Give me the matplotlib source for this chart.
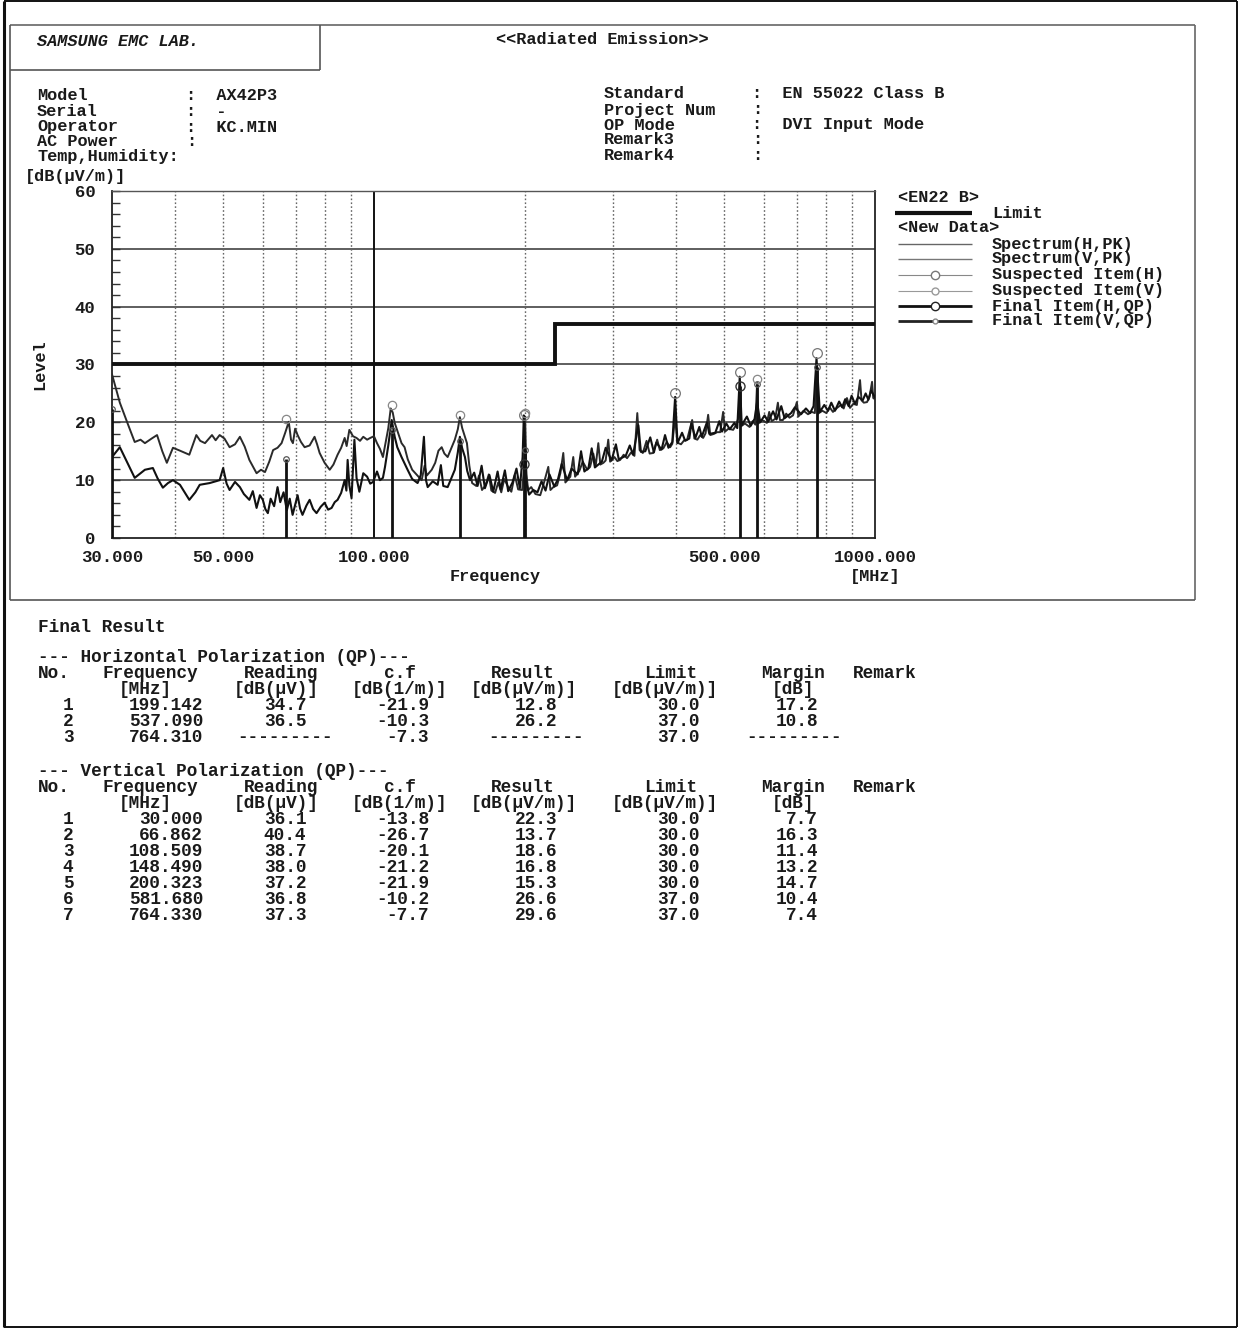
import matplotlib
matplotlib.use("Agg")
import matplotlib.pyplot as plt
from matplotlib.ticker import FixedLocator, MultipleLocator, NullLocator

plt.rcParams['font.family'] = ['Liberation Mono', 'DejaVu Sans Mono']
plt.rcParams['font.weight'] = 'bold'

# ---------------- data ----------------
# Peak spectrum, horizontal antenna polarization (MHz, dB(uV/m))
spec_h_freq = [30.0, 31.1, 32.2, 33.3, 34.9, 36.2, 37.0, 37.9, 38.8, 39.7, 41.0, 42.8, 44.0, 44.9,
               47.0, 49.2, 50.0, 50.8, 51.5, 52.8, 54.0, 55.0, 56.4, 57.3, 58.3, 59.2, 60.0, 60.7,
               61.4, 62.2, 63.2, 64.2, 65.0, 66.0, 67.0, 67.9, 68.8, 70.4, 71.2, 72.0, 73.3, 74.4,
               75.6, 76.8, 78.3, 79.7, 81.0, 82.3, 83.5, 84.6, 86.0, 87.4, 88.1, 88.6, 89.3, 90.2,
               90.9, 91.4, 92.3, 93.5, 95.2, 96.9, 98.3, 99.6, 101.4, 102.8, 104.2, 105.2, 106.8,
               108.5, 110.0, 111.3, 113.5, 116.7, 119.2, 122.2, 124.0, 125.8, 127.0, 128.0, 131.0,
               134.0, 136.0, 137.5, 140.3, 142.5, 145.0, 147.0, 148.4, 150.0, 151.9, 153.5, 155.5,
               158.5, 161.0, 164.0, 166.5, 170.0, 173.0, 176.5, 179.0, 182.5, 185.3, 189.0, 192.5,
               195.5, 198.0, 199.1, 200.0, 201.5, 204.0, 208.0, 212.0, 216.0, 220.0, 224.0, 229.0,
               233.0, 237.0, 243.0, 248.0, 255.0, 259.0, 263.0, 268.0, 272.0, 276.0, 285.0, 290.0,
               298.0, 304.0, 308.0, 318.0, 324.0, 329.0, 337.0, 341.0, 348.0, 356.0, 362.0, 366.0,
               375.0, 381.0, 387.0, 394.0, 399.1, 403.5, 412.0, 418.0, 426.0, 430.0, 438.0, 446.0,
               451.0, 462.0, 467.0, 480.0, 489.0, 495.0, 505.0, 513.0, 524.0, 531.0, 537.1, 542.0,
               555.0, 565.0, 575.0, 581.7, 590.0, 602.0, 612.0, 626.0, 636.0, 650.0, 660.0, 680.0,
               692.0, 712.0, 728.0, 742.0, 754.0, 764.3, 776.0, 792.0, 806.0, 818.0, 832.0, 848.0,
               860.0, 872.0, 886.0, 898.0, 912.0, 926.0, 945.0, 958.0, 970.0, 982.0, 1000.0]
spec_h_level = [14.0, 15.7, 13.0, 10.4, 11.8, 12.1, 10.3, 8.7, 9.5, 10.0, 9.2, 6.6, 7.9, 9.2,
                9.5, 10.0, 12.1, 9.4, 8.3, 9.7, 8.8, 7.6, 6.6, 8.1, 5.2, 7.4, 6.6, 5.0,
                4.3, 6.8, 5.5, 8.8, 6.2, 7.9, 4.8, 6.8, 4.0, 7.4, 5.1, 4.0, 5.6, 6.6,
                5.0, 4.3, 5.4, 6.1, 4.9, 5.2, 6.2, 6.6, 7.8, 10.0, 8.2, 13.5, 9.1, 6.9,
                12.8, 17.0, 10.4, 8.0, 11.2, 10.6, 9.4, 9.7, 11.5, 10.0, 10.4, 12.3, 16.0,
                20.4, 17.5, 15.7, 14.0, 11.8, 10.2, 9.5, 10.9, 17.5, 10.0, 8.8, 9.8,
                9.2, 12.6, 9.0, 8.8, 10.2, 11.8, 14.8, 17.5, 15.5, 14.0, 11.6, 10.0,
                11.3, 9.0, 12.5, 8.6, 10.9, 8.0, 11.5, 8.4, 11.7, 8.1, 9.6, 12.0,
                8.6, 14.0, 21.2, 17.0, 9.5, 7.5, 8.3, 7.9, 9.8, 8.2, 11.0, 8.9,
                10.2, 12.8, 10.0, 12.0, 11.0, 15.0, 11.5, 12.1, 15.5, 12.2, 13.2, 15.6,
                13.4, 16.2, 13.6, 14.2, 16.0, 14.4, 19.5, 14.9, 15.0, 17.4, 14.8, 16.5,
                15.3, 17.8, 15.6, 16.6, 24.4, 16.4, 18.2, 16.8, 17.2, 19.8, 17.3, 19.2,
                17.5, 20.0, 18.0, 18.2, 20.2, 18.4, 19.8, 18.8, 19.9, 19.0, 27.9, 19.5,
                21.0, 19.4, 20.6, 23.5, 20.0, 21.2, 20.1, 21.9, 20.5, 22.8, 20.7, 21.6,
                22.6, 21.4, 22.4, 21.6, 22.8, 31.1, 21.8, 23.0, 22.0, 23.4, 22.0, 23.6,
                22.6, 24.0, 22.8, 24.6, 23.2, 24.4, 23.8, 25.0, 23.9, 25.5, 24.3]

# Peak spectrum, vertical antenna polarization (MHz, dB(uV/m))
spec_v_freq = [30.0, 31.1, 32.3, 33.3, 34.2, 34.9, 36.0, 36.9, 37.8, 38.6, 39.7, 41.0, 42.8, 44.2,
               45.0, 46.0, 47.5, 48.3, 49.2, 50.3, 51.5, 52.8, 54.0, 55.2, 56.4, 58.3, 59.5, 60.6,
               61.8, 62.9, 64.2, 65.4, 66.5, 67.6, 68.3, 68.9, 69.6, 70.4, 71.5, 72.7, 74.4, 76.1,
               77.0, 77.9, 79.7, 81.6, 83.0, 84.6, 86.0, 87.4, 88.2, 89.3, 90.8, 92.3, 93.8, 95.2,
               96.9, 98.3, 100.0, 101.4, 102.8, 104.2, 105.5, 106.8, 108.0, 109.0, 110.0, 111.5,
               113.5, 115.1, 116.8, 119.2, 121.5, 124.5, 126.2, 127.5, 130.4, 132.5, 134.5, 136.5,
               138.2, 140.3, 142.5, 145.0, 147.0, 148.4, 150.0, 151.9, 153.3, 155.0, 157.0, 160.0,
               162.0, 164.3, 167.0, 169.5, 171.5, 174.5, 177.0, 179.5, 182.0, 185.3, 188.0, 191.0,
               194.0, 197.6, 199.0, 200.3, 201.5, 203.1, 206.0, 210.0, 214.7, 218.0, 222.8, 225.0,
               228.0, 232.0, 235.5, 238.7, 241.0, 246.5, 249.9, 252.0, 257.0, 261.0, 266.5, 270.0,
               274.0, 277.0, 280.4, 283.0, 287.0, 290.0, 293.5, 296.0, 302.0, 306.0, 310.0, 315.0,
               320.0, 326.0, 331.0, 335.4, 339.0, 344.0, 350.0, 355.0, 360.8, 367.5, 372.0, 378.0,
               384.0, 390.1, 394.0, 399.1, 403.0, 410.0, 416.0, 421.7, 431.6, 436.0, 442.0, 448.0,
               453.9, 459.0, 464.5, 469.0, 477.0, 484.0, 491.0, 497.6, 502.0, 510.0, 521.0, 528.0,
               534.0, 537.1, 540.0, 550.0, 562.0, 570.0, 577.0, 581.7, 585.0, 595.0, 608.4, 615.0,
               622.0, 632.0, 640.0, 646.0, 654.9, 665.0, 675.0, 686.0, 698.3, 703.0, 708.0, 720.0,
               735.0, 748.0, 758.6, 764.3, 770.0, 785.0, 800.0, 812.0, 824.3, 840.0, 855.0, 866.0,
               879.0, 891.5, 905.0, 920.0, 933.5, 940.0, 950.0, 964.0, 975.0, 986.6, 992.0, 1000.0]
spec_v_level = [28.3, 23.4, 19.6, 16.6, 17.0, 16.4, 17.2, 17.8, 15.0, 13.0, 15.6, 15.1, 14.4, 17.8,
                16.8, 16.4, 17.8, 16.9, 17.8, 17.2, 15.7, 16.2, 17.5, 15.8, 13.5, 11.2, 11.8, 11.4,
                13.2, 15.2, 15.6, 16.4, 18.2, 20.1, 17.0, 16.4, 18.9, 17.8, 16.6, 15.7, 16.0, 17.5,
                16.2, 14.7, 13.0, 11.8, 12.7, 14.4, 15.6, 17.3, 15.9, 18.7, 17.6, 17.3, 16.8, 17.5,
                17.0, 17.3, 17.6, 16.4, 15.4, 14.0, 16.5, 19.0, 22.4, 21.7, 19.9, 18.4,
                16.4, 15.7, 13.6, 11.8, 11.0, 10.0, 12.5, 10.8, 11.8, 13.0, 15.1, 15.7,
                14.6, 14.0, 15.4, 17.0, 18.8, 20.9, 19.0, 17.5, 16.4, 12.5, 9.5, 9.0,
                10.8, 8.3, 9.1, 11.0, 8.2, 7.8, 9.6, 7.9, 10.2, 8.8, 8.0, 10.9,
                8.4, 8.3, 11.5, 21.0, 11.0, 8.3, 8.8, 7.6, 7.4, 9.3, 12.3, 8.3,
                8.8, 9.1, 11.2, 14.7, 9.6, 10.6, 14.0, 10.6, 11.6, 13.2, 11.8, 12.3,
                14.6, 12.4, 16.4, 12.7, 13.0, 13.4, 17.0, 13.2, 14.0, 13.3, 13.5, 14.4,
                13.8, 14.8, 14.2, 21.6, 15.2, 14.7, 16.8, 14.6, 14.7, 17.0, 15.2, 15.5,
                16.6, 15.7, 16.3, 21.0, 16.5, 16.2, 16.9, 17.0, 20.4, 17.2, 17.0, 17.8,
                17.3, 18.1, 21.3, 17.8, 18.0, 18.3, 18.3, 21.8, 18.4, 18.9, 18.7, 19.5,
                20.8, 24.0, 19.3, 19.8, 19.2, 20.2, 19.6, 26.8, 19.8, 20.4, 19.9, 21.8,
                20.2, 20.6, 23.4, 20.4, 20.4, 21.5, 20.8, 21.2, 23.5, 21.0, 21.3, 22.0,
                21.4, 21.8, 21.6, 29.0, 21.5, 22.0, 21.6, 22.6, 21.8, 22.5, 23.0, 22.4,
                24.2, 22.5, 23.2, 23.0, 27.3, 23.8, 23.4, 23.5, 24.4, 27.0, 24.2, 24.0]

# EN 55022 class B limit (step at 230 MHz)
limit_freq = [30.0, 230.0, 1000.0]
limit_level = [30.0, 37.0, 37.0]

# Suspected peaks
susp_h_freq = [199.142, 399.1, 537.09, 764.31]
susp_h_level = [21.2, 25.0, 28.7, 32.0]
susp_v_freq = [66.862, 108.509, 148.49, 200.323, 581.68]
susp_v_level = [20.5, 23.0, 21.3, 21.6, 27.5]

# Final quasi-peak results, horizontal
h_no = [1, 2, 3]
h_freq = [199.142, 537.090, 764.310]
h_reading = [34.7, 36.5, None]
h_cf = [-21.9, -10.3, -7.3]
h_result = [12.8, 26.2, None]
h_limit = [30.0, 37.0, 37.0]
h_margin = [17.2, 10.8, None]

# Final quasi-peak results, vertical
v_no = [1, 2, 3, 4, 5, 6, 7]
v_freq = [30.000, 66.862, 108.509, 148.490, 200.323, 581.680, 764.330]
v_reading = [36.1, 40.4, 38.7, 38.0, 37.2, 36.8, 37.3]
v_cf = [-13.8, -26.7, -20.1, -21.2, -21.9, -10.2, -7.7]
v_result = [22.3, 13.7, 18.6, 16.8, 15.3, 26.6, 29.6]
v_limit = [30.0, 30.0, 30.0, 30.0, 30.0, 37.0, 37.0]
v_margin = [7.7, 16.3, 11.4, 13.2, 14.7, 10.4, 7.4]

x_ticks = [30, 50, 100, 500, 1000]
x_tick_labels = ["30.000", "50.000", "100.000", "500.000", "1000.000"]
grid_freqs_dotted = [40, 50, 60, 70, 80, 90, 200, 300, 400, 500, 600, 700, 800, 900]

header_left = [("Model", "AX42P3"), ("Serial", "-"), ("Operator", "KC.MIN"),
               ("AC Power", ""), ("Temp,Humidity", None)]
header_right = [("Standard", "EN 55022 Class B"), ("Project Num", ""),
                ("OP Mode", "DVI Input Mode"), ("Remark3", ""), ("Remark4", "")]

# ---------------- figure ----------------
W, H = 1241, 1328
fig = plt.figure(figsize=(W / 100, H / 100), dpi=100)
fig.patch.set_facecolor("white")

page = fig.add_axes([0, 0, 1, 1])
page.set_xlim(0, W)
page.set_ylim(H, 0)
page.axis("off")

INK = "#1a1a1a"
HS = 12.2   # header / legend text size
TS = 12.8   # table text size


def put(x, y, s, size=HS, ha="left", **kw):
    page.text(x, y, s, fontsize=size, ha=ha, va="center", color=INK,
              fontweight="bold", **kw)


def seg(x0, y0, x1, y1, lw=1.2, color="#333333"):
    page.plot([x0, x1], [y0, y1], color=color, lw=lw, solid_capstyle="butt")


# page border
seg(4, 1, 4, H - 1, lw=2.2, color="#111111")
seg(4, 1, W - 4, 1, lw=1.4, color="#111111")
seg(W - 4, 1, W - 4, H - 1, lw=1.4, color="#111111")
seg(4, H - 1, W - 4, H - 1, lw=1.4, color="#111111")

# report frame and lab box
seg(10, 25, 1195, 25, lw=1.2, color="#666666")
seg(10, 25, 10, 600, lw=1.2, color="#555555")
seg(1195, 25, 1195, 600, lw=1.2, color="#666666")
seg(10, 600, 1195, 600, lw=1.2, color="#555555")
seg(10, 70, 320, 70, lw=1.2, color="#555555")
seg(320, 25, 320, 70, lw=1.2, color="#555555")

put(37, 42, "SAMSUNG EMC LAB.", style="italic")
put(602, 40, "<<Radiated Emission>>", ha="center")

left_rows_y = [96, 111, 127, 142, 157]
for (lab, val), y in zip(header_left, left_rows_y):
    if val is None:
        put(37, y, lab + ":")
    else:
        put(37, y, lab)
        put(186, y, ":" + ("  " + val if val else ""))

right_rows_y = [94, 110, 125, 140, 156]
for (lab, val), y in zip(header_right, right_rows_y):
    put(604, y, lab)
    put(752, y, ":" + ("  " + val if val else ""))

put(25, 176, "[dB(μV/m)]")

# ---------------- chart ----------------
ax = fig.add_axes([112 / W, 1 - 538 / H, 763 / W, 347 / H])
ax.set_xscale("log")
ax.set_xlim(30, 1000)
ax.set_ylim(0, 60)

for y in range(10, 60, 10):
    ax.axhline(y, color="#333333", lw=1.1, zorder=1)
for f in grid_freqs_dotted:
    ax.axvline(f, color="#666666", lw=1.0, ls=(0, (1.2, 1.6)), zorder=1)
ax.axvline(100, color="#111111", lw=1.4, zorder=1)

ax.plot(limit_freq, limit_level, drawstyle="steps-post", color="#111111",
        lw=2.8, zorder=3, solid_joinstyle="miter")

ax.plot(spec_v_freq, spec_v_level, color="#2a2a2a", lw=1.4, zorder=4)
ax.plot(spec_h_freq, spec_h_level, color="#111111", lw=1.5, zorder=4)

# final items as sticks from the axis floor
hf = [f for f, r in zip(h_freq, h_result) if r is not None]
hr = [r for r in h_result if r is not None]
ax.vlines(v_freq, 0, v_result, color="#111111", lw=2.0, zorder=5)
ax.vlines(hf, 0, hr, color="#111111", lw=2.0, zorder=5)
ax.plot(hf, hr, ls="none", marker="o", ms=6.5, mfc="none", mec="#333333",
        mew=1.0, zorder=6)
ax.plot(v_freq, v_result, ls="none", marker="o", ms=4, mfc="none",
        mec="#555555", mew=0.9, zorder=6)

# suspected peaks
ax.plot(susp_h_freq, susp_h_level, ls="none", marker="o", ms=7, mfc="none",
        mec="#777777", mew=0.9, zorder=6)
ax.plot(susp_v_freq, susp_v_level, ls="none", marker="o", ms=6, mfc="none",
        mec="#888888", mew=0.9, zorder=6)

ax.xaxis.set_major_locator(FixedLocator(x_ticks))
ax.xaxis.set_minor_locator(NullLocator())
ax.set_xticklabels(x_tick_labels)
ax.tick_params(axis="x", which="major", length=0, pad=9, labelsize=12.5,
               labelcolor=INK)
ax.yaxis.set_major_locator(MultipleLocator(10))
ax.yaxis.set_minor_locator(MultipleLocator(2))
ax.tick_params(axis="y", which="both", direction="in", length=6, width=1.0,
               color="#333333", labelsize=12.5, pad=12, labelcolor=INK)
for lbl in ax.get_xticklabels() + ax.get_yticklabels():
    lbl.set_fontweight("bold")

for side, sp in ax.spines.items():
    sp.set_color("#222222")
    sp.set_linewidth(1.3)
ax.spines["top"].set_linewidth(1.0)
ax.spines["top"].set_color("#555555")

put(40, 365, "Level", rotation=90, ha="center")
put(495, 576, "Frequency", ha="center")
put(875, 576, "[MHz]", ha="center")

# ---------------- legend ----------------
put(898, 197, "<EN22 B>")
seg(895, 213, 972, 213, lw=3.0, color="#111111")
put(992, 213, "Limit")
put(898, 228, "<New Data>")
legend_rows = [
    (244, "Spectrum(H,PK)", dict(lw=1.0, color="#666666"), None),
    (259, "Spectrum(V,PK)", dict(lw=1.0, color="#777777"), None),
    (275, "Suspected Item(H)", dict(lw=0.8, color="#888888"), ("o", 6, "#777777")),
    (291, "Suspected Item(V)", dict(lw=0.8, color="#999999"), ("o", 5, "#999999")),
    (306, "Final Item(H,QP)", dict(lw=2.0, color="#111111"), ("o", 6, "#222222")),
    (321, "Final Item(V,QP)", dict(lw=2.0, color="#222222"), ("o", 3.5, "#888888")),
]
for y, txt, style, mk in legend_rows:
    page.plot([898, 972], [y, y], solid_capstyle="butt", **style)
    if mk is not None:
        page.plot([935], [y], marker=mk[0], ms=mk[1], mfc="white", mec=mk[2],
                  mew=1.0, ls="none")
    put(992, y, txt)

# ---------------- result tables ----------------
put(38, 627, "Final Result", size=TS)


def fmt(v, spec):
    return "---------" if v is None else format(v, spec)


def table(y0, title, nos, freqs, reads, cfs, results, limits, margins):
    put(38, y0, title, size=TS)
    yh = y0 + 16
    put(38, yh, "No.", size=TS)
    put(150, yh, "Frequency", size=TS, ha="center")
    put(281, yh, "Reading", size=TS, ha="center")
    put(400, yh, "c.f", size=TS, ha="center")
    put(523, yh, "Result", size=TS, ha="center")
    put(671, yh, "Limit", size=TS, ha="center")
    put(793, yh, "Margin", size=TS, ha="center")
    put(853, yh, "Remark", size=TS)
    yu = yh + 16
    put(145, yu, "[MHz]", size=TS, ha="center")
    put(276, yu, "[dB(μV)]", size=TS, ha="center")
    put(400, yu, "[dB(1/m)]", size=TS, ha="center")
    put(524, yu, "[dB(μV/m)]", size=TS, ha="center")
    put(665, yu, "[dB(μV/m)]", size=TS, ha="center")
    put(793, yu, "[dB]", size=TS, ha="center")
    y = yu + 16
    for n, f, r, c, res, lim, m in zip(nos, freqs, reads, cfs, results, limits, margins):
        put(68, y, str(n), size=TS, ha="center")
        put(203, y, format(f, ".3f"), size=TS, ha="right")
        put(285, y, fmt(r, ".1f"), size=TS, ha="center")
        put(429, y, format(c, ".1f"), size=TS, ha="right")
        put(536, y, fmt(res, ".1f"), size=TS, ha="center")
        put(678, y, format(lim, ".1f"), size=TS, ha="center")
        if m is None:
            put(794, y, fmt(m, ".1f"), size=TS, ha="center")
        else:
            put(818, y, format(m, ".1f"), size=TS, ha="right")
        y += 16


table(657, "--- Horizontal Polarization (QP)---", h_no, h_freq, h_reading, h_cf,
      h_result, h_limit, h_margin)
table(771, "--- Vertical Polarization (QP)---", v_no, v_freq, v_reading, v_cf,
      v_result, v_limit, v_margin)

fig.savefig("out.png", dpi=100, facecolor="white")
